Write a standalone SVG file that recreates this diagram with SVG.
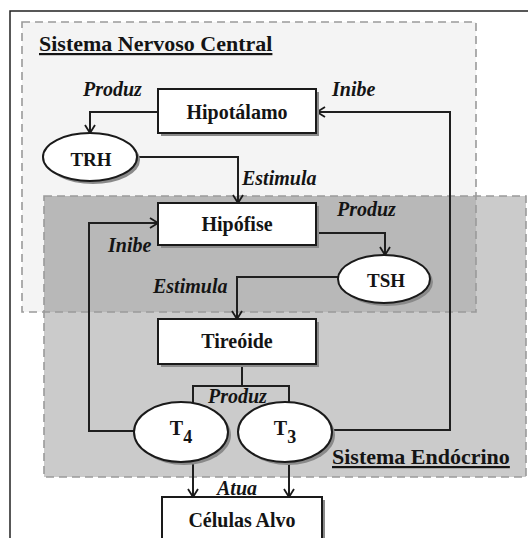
<svg xmlns="http://www.w3.org/2000/svg" width="528" height="538" viewBox="0 0 528 538">
<defs>
<marker id="arr" markerUnits="userSpaceOnUse" markerWidth="12" markerHeight="12" refX="8" refY="5" orient="auto" overflow="visible">
<path d="M0,0 L8,5 L0,10" fill="none" stroke="#1a1a1a" stroke-width="1.8"/>
</marker>
<style>
text{font-family:"Liberation Serif","Times New Roman",serif;font-weight:bold;fill:#141414;}
.lbl{font-size:20px;text-anchor:middle;}
.it{font-size:20px;font-style:italic;}
.hdr{font-size:22px;text-decoration:underline;}
.box{fill:#ffffff;stroke:#1a1a1a;stroke-width:2;}
.sh{fill:#8a8a8a;}
.con{fill:none;stroke:#1f1f1f;stroke-width:2;}
.arr{marker-end:url(#arr);}
.zone{fill:none;stroke:#9a9a9a;stroke-width:1.6;stroke-dasharray:8 5;}
</style>
</defs>
<rect x="0" y="0" width="528" height="538" fill="#ffffff"/>
<path d="M10,538 L10,11 L528,11" fill="none" stroke="#222" stroke-width="1.5"/>

<g id="zones">
<rect x="22" y="22" width="454" height="290" fill="#f4f4f4"/>
<rect x="44" y="196" width="482" height="281" fill="#cbcbcb"/>
<rect x="44" y="196" width="432" height="116" fill="#b8b8b8"/>
<rect class="zone" x="22" y="22" width="454" height="290"/>
<rect class="zone" x="44" y="196" width="482" height="281"/>
<text class="hdr" x="39" y="51">Sistema Nervoso Central</text>
<text class="hdr" x="332" y="464">Sistema Endócrino</text>
</g>

<g id="connectors">
<path class="con arr" d="M158,112 H90 V133"/>
<path class="con arr" d="M137,157 H238 V203"/>
<path class="con arr" d="M331,430 H450 V112 H317"/>
<path class="con arr" d="M316,233 H385 V255"/>
<path class="con arr" d="M338,277 H237 V319"/>
<path class="con arr" d="M134,431 H89 V223 H158"/>
<path class="con" d="M242,364 V386 M193,405 V386 H289 V405"/>
<path class="con arr" d="M193,462 V497"/>
<path class="con arr" d="M289,462 V497"/>
<text class="it" x="83" y="96">Produz</text>
<text class="it" x="332" y="96">Inibe</text>
<text class="it" x="242" y="185">Estimula</text>
<text class="it" x="337" y="216">Produz</text>
<text class="it" x="108" y="252">Inibe</text>
<text class="it" x="153" y="293">Estimula</text>
<text class="it" x="208" y="403">Produz</text>
<text class="it" x="217" y="495">Atua</text>
</g>

<g id="hipotalamo">
<rect class="sh" x="161" y="92" width="158" height="44"/>
<rect class="box" x="158" y="89" width="158" height="44"/>
<text class="lbl" x="237" y="119">Hipotálamo</text>
</g>

<g id="trh">
<ellipse class="sh" cx="93" cy="160" rx="47" ry="24"/>
<ellipse class="box" cx="90" cy="157" rx="47" ry="24"/>
<text class="lbl" x="91" y="166" style="font-size:19px">TRH</text>
</g>

<g id="hipofise">
<rect class="sh" x="161" y="206" width="158" height="42"/>
<rect class="box" x="158" y="203" width="158" height="42"/>
<text class="lbl" x="237" y="231">Hipófise</text>
</g>

<g id="tsh">
<ellipse class="sh" cx="387" cy="282" rx="46" ry="24"/>
<ellipse class="box" cx="384" cy="279" rx="46" ry="24"/>
<text class="lbl" x="386" y="287" style="font-size:19px">TSH</text>
</g>

<g id="tireoide">
<rect class="sh" x="161" y="322" width="158" height="45"/>
<rect class="box" x="158" y="319" width="158" height="45"/>
<text class="lbl" x="237" y="348">Tireóide</text>
</g>

<g id="t4">
<ellipse class="sh" cx="184" cy="435" rx="47" ry="30"/>
<ellipse class="box" cx="181" cy="432" rx="47" ry="30"/>
<text class="lbl" x="181" y="435">T<tspan dy="8" style="font-size:18px">4</tspan></text>
</g>

<g id="t3">
<ellipse class="sh" cx="288" cy="435" rx="47" ry="30"/>
<ellipse class="box" cx="285" cy="432" rx="47" ry="30"/>
<text class="lbl" x="285" y="435">T<tspan dy="8" style="font-size:18px">3</tspan></text>
</g>

<g id="celulas">
<rect class="sh" x="165" y="500" width="160" height="60"/>
<rect class="box" x="162" y="497" width="160" height="60"/>
<text class="lbl" x="242" y="527">Células Alvo</text>
</g>
</svg>
